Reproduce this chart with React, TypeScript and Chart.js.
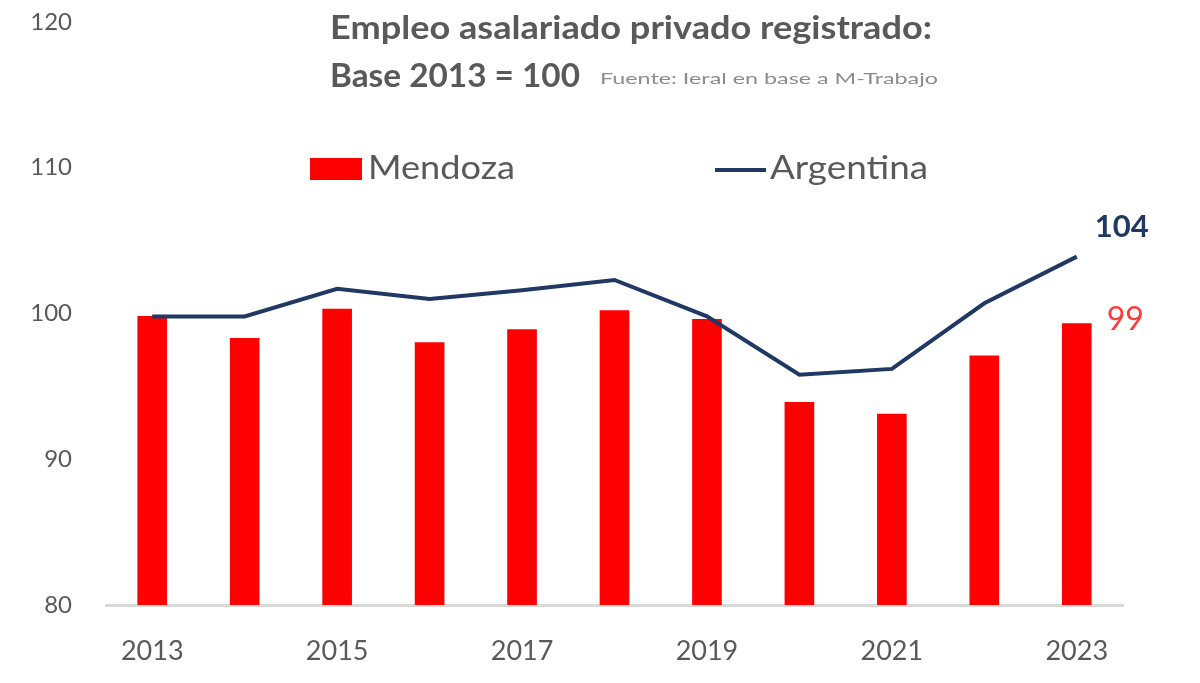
import React, { useEffect, useRef } from 'react';
import { Chart, registerables } from 'chart.js';

Chart.register(...registerables);

const years = ['2013', '2014', '2015', '2016', '2017', '2018', '2019', '2020', '2021', '2022', '2023'];
const mendoza = [99.8, 98.3, 100.3, 98.0, 98.9, 100.2, 99.6, 93.9, 93.1, 97.1, 99.3];
const argentina = [99.8, 99.8, 101.7, 101.0, 101.6, 102.3, 99.8, 95.8, 96.2, 100.7, 103.9];
const yMin = 80;
const yMax = 120;
const yStep = 10;

const seriesNames = ['Mendoza', 'Argentina'];
const titleLine1 = 'Empleo asalariado privado registrado:';
const titleLine2 = 'Base 2013 = 100';
const sourceText = 'Fuente: Ieral en base a M-Trabajo';

const RED = '#FF0000';
const NAVY = '#1F3864';
const GRAY = '#595959';
const FONT = 'Lato, "Open Sans", sans-serif';

function drawFitted(ctx: any, text: string, x: number, y: number, font: string, width: number) {
  ctx.save();
  ctx.font = font;
  const w = ctx.measureText(text).width;
  const k = w > 0 ? width / w : 1;
  ctx.translate(x, y);
  ctx.scale(k, 1);
  ctx.fillText(text, 0, 0);
  ctx.restore();
}

const overlayPlugin = {
  id: 'overlay',
  afterDraw(chart: any) {
    const { ctx } = chart;
    const xs = chart.scales.x;
    const ys = chart.scales.y;
    ctx.save();
    ctx.textBaseline = 'middle';
    ctx.textAlign = 'left';

    // Title
    ctx.fillStyle = GRAY;
    drawFitted(ctx, titleLine1, 330, 28, `bold 33px ${FONT}`, 602);
    drawFitted(ctx, titleLine2, 330, 76, `bold 33px ${FONT}`, 250);
    ctx.fillStyle = '#8C8C8C';
    drawFitted(ctx, sourceText, 600, 79, `16px ${FONT}`, 338);

    // Legend
    ctx.fillStyle = RED;
    ctx.fillRect(310, 158, 52, 22);
    ctx.fillStyle = GRAY;
    drawFitted(ctx, seriesNames[0], 368, 168, `33px ${FONT}`, 147);
    ctx.strokeStyle = NAVY;
    ctx.lineWidth = 4;
    ctx.beginPath();
    ctx.moveTo(715, 170);
    ctx.lineTo(766, 170);
    ctx.stroke();
    ctx.fillStyle = GRAY;
    drawFitted(ctx, seriesNames[1], 770, 168, `33px ${FONT}`, 158);

    // End labels
    const last = years.length - 1;
    const lx = xs.getPixelForValue(last);
    const argY = ys.getPixelForValue(argentina[last]);
    const menY = ys.getPixelForValue(mendoza[last]);
    ctx.font = `bold 31px ${FONT}`;
    ctx.fillStyle = NAVY;
    ctx.fillText(String(Math.round(argentina[last])), lx + 18, argY - 30);
    ctx.font = `32px ${FONT}`;
    ctx.fillStyle = '#FF3B3B';
    ctx.fillText(String(Math.round(mendoza[last])), lx + 30, menY - 4);
    ctx.restore();
  },
};

export default function App() {
  const ref = useRef<HTMLCanvasElement | null>(null);

  useEffect(() => {
    if (!ref.current) return;
    const chart = new Chart(ref.current, {
      type: 'bar',
      data: {
        labels: years,
        datasets: [
          {
            type: 'line',
            label: seriesNames[1],
            data: argentina,
            borderColor: NAVY,
            backgroundColor: NAVY,
            borderWidth: 4,
            pointRadius: 0,
            tension: 0,
            order: 0,
          } as any,
          {
            type: 'bar',
            label: seriesNames[0],
            data: mendoza,
            backgroundColor: RED,
            borderWidth: 0,
            barThickness: 29,
            order: 1,
          },
        ],
      },
      options: {
        responsive: false,
        animation: false,
        devicePixelRatio: 1,
        layout: { padding: { left: 0, right: 77, top: 22, bottom: 0 } },
        plugins: {
          legend: { display: false },
          title: { display: false },
          tooltip: { enabled: false },
        },
        scales: {
          x: {
            grid: { display: false, drawTicks: false },
            border: { display: true, color: '#D9D9D9', width: 3 },
            ticks: {
              autoSkip: false,
              maxRotation: 0,
              padding: 30,
              color: GRAY,
              font: { family: FONT, size: 27 },
              callback: (_v: any, i: number) => (i % 2 === 0 ? years[i] : ''),
            },
            afterFit: (s: any) => {
              s.height = 78;
              s.paddingLeft = 0;
              s.paddingRight = 0;
            },
          },
          y: {
            min: yMin,
            max: yMax,
            grid: { display: false, drawTicks: false },
            border: { display: false },
            ticks: {
              stepSize: yStep,
              padding: 34,
              color: GRAY,
              font: { family: FONT, size: 24 },
            },
            afterFit: (s: any) => {
              s.width = 106;
              s.paddingTop = 0;
              s.paddingBottom = 0;
            },
          },
        },
      },
      plugins: [overlayPlugin],
    });
    return () => chart.destroy();
  }, []);

  return (
    <div style={{ position: 'absolute', left: 0, top: 0, width: 1200, height: 683, background: '#fff' }}>
      <canvas ref={ref} width={1200} height={683} style={{ width: 1200, height: 683, display: 'block' }} />
    </div>
  );
}
